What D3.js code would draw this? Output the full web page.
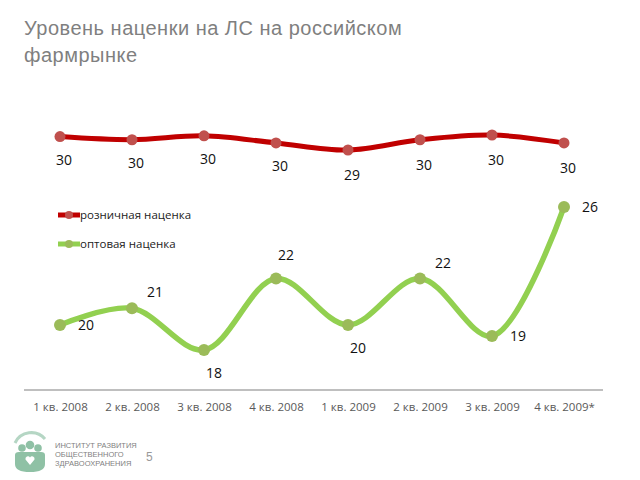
<!DOCTYPE html>
<html><head><meta charset="utf-8">
<script src="https://cdn.jsdelivr.net/npm/d3@7"></script>
<style>body{margin:0;background:#fff;}svg{display:block;}</style>
</head><body>
<svg id="c" width="640" height="480"></svg>
<script>
const categories = ["1 кв. 2008","2 кв. 2008","3 кв. 2008","4 кв. 2008","1 кв. 2009","2 кв. 2009","3 кв. 2009","4 кв. 2009*"];
const retail = [30.3, 30.1, 30.35, 29.9, 29.45, 30.1, 30.4, 29.9];
const wholesale = [19.66, 20.5, 18.4, 22.0, 19.66, 22.0, 19.1, 25.6];
const retailLabels = ["30","30","30","30","29","30","30","30"];
const wholesaleLabels = ["20","21","18","22","20","22","19","26"];
const wholesalePlacement = ["right","aboveRight","belowRight","above","belowRight","aboveRight","right","right"];
const seriesNames = ["розничная наценка","оптовая наценка"];

const svg = d3.select("#c");
const font = "'Open Sans', 'DejaVu Sans', sans-serif";

// Title
const title = svg.append("text")
  .attr("font-family","'Liberation Sans', Arial, sans-serif").attr("font-size",20)
  .attr("letter-spacing",0.5).attr("fill","#7f7f7f");
title.append("tspan").attr("x",24).attr("y",35).text("Уровень наценки на ЛС на российском");
title.append("tspan").attr("x",24).attr("y",62).text("фармрынке");

const x = d3.scalePoint().domain(categories).range([60,564]);
const yG = d3.scaleLinear().domain([18.4,25.6]).range([350,207]);
const yR = d3.scaleLinear().domain([29.45,30.4]).range([150,135]);

// axis
const axis = d3.axisBottom(x).tickSize(0).tickPadding(13);
const ag = svg.append("g").attr("transform","translate(0,390)").call(axis);
ag.select(".domain").remove();
ag.append("line").attr("x1",24).attr("x2",603).attr("y1",0).attr("y2",0).attr("stroke","#bfbfbf").attr("stroke-width",2);
ag.selectAll(".tick text").attr("font-family",font).attr("font-size",11.5).attr("fill","#595959");

const curve = d3.curveCatmullRom.alpha(0.5);
// retail line
svg.append("path").datum(retail)
  .attr("d", d3.line().x((d,i)=>x(categories[i])).y(d=>yR(d)).curve(curve))
  .attr("fill","none").attr("stroke","#c00000").attr("stroke-width",5);
svg.selectAll(".rp").data(retail).enter().append("circle")
  .attr("cx",(d,i)=>x(categories[i])).attr("cy",d=>yR(d)).attr("r",5.5).attr("fill","#c0504d");
svg.selectAll(".rl").data(retail).enter().append("text")
  .attr("x",(d,i)=>x(categories[i])+4).attr("y",(d,i)=>yR(d)+(i<4?28:30))
  .attr("text-anchor","middle").attr("font-family",font).attr("font-size",14).attr("fill","#111")
  .text((d,i)=>retailLabels[i]);

// wholesale line
svg.append("path").datum(wholesale)
  .attr("d", d3.line().x((d,i)=>x(categories[i])).y(d=>yG(d)).curve(curve))
  .attr("fill","none").attr("stroke","#92d050").attr("stroke-width",5.5);
svg.selectAll(".gp").data(wholesale).enter().append("circle")
  .attr("cx",(d,i)=>x(categories[i])).attr("cy",d=>yG(d)).attr("r",6).attr("fill","#9bbb59");
const off = {right:[26,5], aboveRight:[23,-11], above:[10,-19], belowRight:[10,28]};
svg.selectAll(".gl").data(wholesale).enter().append("text")
  .attr("x",(d,i)=>x(categories[i])+off[wholesalePlacement[i]][0])
  .attr("y",(d,i)=>yG(d)+off[wholesalePlacement[i]][1])
  .attr("text-anchor","middle").attr("font-family",font).attr("font-size",14).attr("fill","#111")
  .text((d,i)=>wholesaleLabels[i]);

// legend
const legColors = [["#c00000","#c0504d"],["#92d050","#9bbb59"]];
seriesNames.forEach((n,i)=>{
  const ly = 215 + i*29;
  svg.append("line").attr("x1",58).attr("x2",80).attr("y1",ly).attr("y2",ly).attr("stroke",legColors[i][0]).attr("stroke-width",5);
  svg.append("circle").attr("cx",69).attr("cy",ly).attr("r",4).attr("fill",legColors[i][1]);
  svg.append("text").attr("x",80).attr("y",ly+4).attr("font-family",font).attr("font-size",11.5).attr("fill","#222").text(n);
});

// logo
const logo = svg.append("g").attr("transform","translate(30,452)");
logo.append("path").attr("d","M-15,-9 A18,18 0 0 1 15,-13").attr("fill","none").attr("stroke","#b5d6c4").attr("stroke-width",3);
logo.append("circle").attr("cx",-8).attr("cy",-4).attr("r",3.8).attr("fill","#8fc1a5");
logo.append("circle").attr("cx",8).attr("cy",-4).attr("r",3.8).attr("fill","#8fc1a5");
logo.append("circle").attr("cx",0).attr("cy",-7).attr("r",4.3).attr("fill","#8fc1a5");
logo.append("path").attr("d","M-15,3 Q-15,0 -11,0 L11,0 Q15,0 15,3 L15,12 Q15,20 0,20 Q-15,20 -15,12 Z").attr("fill","#8fc1a5");
logo.append("path").attr("d","M0,13 L-4.5,7.5 A2.5,2.5 0 0 1 0,5.5 A2.5,2.5 0 0 1 4.5,7.5 Z").attr("fill","#fff");
const lt = svg.append("text").attr("font-family","'Liberation Sans', Arial, sans-serif").attr("font-size",7.5).attr("fill","#7f7f7f");
["ИНСТИТУТ РАЗВИТИЯ","ОБЩЕСТВЕННОГО","ЗДРАВООХРАНЕНИЯ"].forEach((s,i)=>lt.append("tspan").attr("x",55).attr("y",448+i*9).text(s));
svg.append("text").attr("x",146).attr("y",461).attr("font-family","'Liberation Sans', Arial, sans-serif").attr("font-size",12).attr("fill","#999").text("5");
</script>
</body></html>
